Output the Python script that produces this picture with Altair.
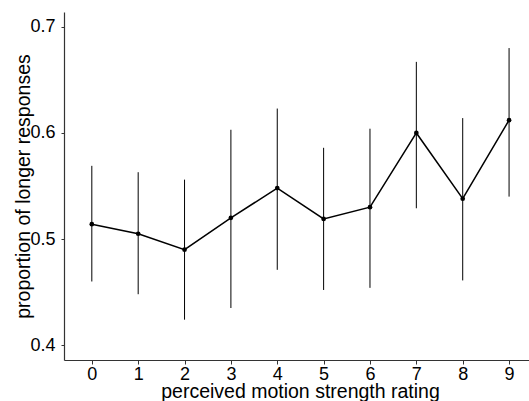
import altair as alt
import pandas as pd

rating = [0, 1, 2, 3, 4, 5, 6, 7, 8, 9]
proportion = [0.514, 0.505, 0.490, 0.520, 0.548, 0.519, 0.530, 0.600, 0.538, 0.612]
upper = [0.569, 0.563, 0.556, 0.603, 0.623, 0.586, 0.604, 0.667, 0.614, 0.680]
lower = [0.460, 0.448, 0.424, 0.435, 0.471, 0.452, 0.454, 0.529, 0.461, 0.540]

df = pd.DataFrame({"rating": rating, "p": proportion, "hi": upper, "lo": lower})

xs = alt.Scale(domain=[-0.6, 9.43], nice=False, zero=False)
ys = alt.Scale(domain=[0.386, 0.714], nice=False, zero=False)

xaxis = alt.Axis(values=rating, title="perceived motion strength rating", grid=False,
                 tickSize=4, labelPadding=1, titlePadding=-1, titleX=236)
yaxis = alt.Axis(values=[0.4, 0.5, 0.6, 0.7], format=".1f", title="proportion of longer responses",
                 grid=False, tickSize=3, labelPadding=6, titlePadding=-4)

base = alt.Chart(df)
err = base.mark_rule(color="black", strokeWidth=1).encode(
    x=alt.X("rating:Q", scale=xs, axis=xaxis),
    y=alt.Y("lo:Q", scale=ys, axis=yaxis),
    y2="hi:Q",
)
line = base.mark_line(color="black", strokeWidth=1.5).encode(
    x=alt.X("rating:Q", scale=xs), y=alt.Y("p:Q", scale=ys)
)
pts = base.mark_point(filled=True, color="black", size=22, opacity=1).encode(
    x=alt.X("rating:Q", scale=xs), y=alt.Y("p:Q", scale=ys)
)

chart = (err + line + pts).properties(
    width=465, height=348,
    autosize=alt.AutoSizeParams(type="none"),
    padding={"left": 64, "top": 12, "right": 0, "bottom": 41},
).configure_view(stroke=None).configure_axis(
    domainColor="#333333", domainWidth=1.2, tickColor="#333333",
    labelFont="Liberation Sans", titleFont="Liberation Sans",
    labelFontSize=18, titleFontSize=19.5, labelColor="black", titleColor="black",
    titleFontWeight="normal",
)

chart.save("out.html", embed_options={"renderer": "svg", "actions": False})
